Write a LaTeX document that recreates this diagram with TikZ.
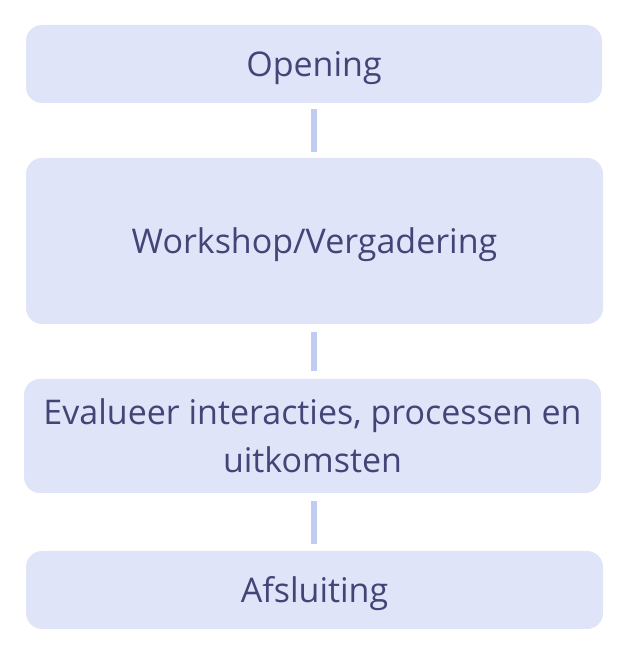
\documentclass[tikz,border=0pt]{standalone}
\usepackage{fontspec}
\setmainfont{Open Sans}
\definecolor{boxfill}{HTML}{DFE4F8}
\definecolor{linec}{HTML}{C0CCF2}
\definecolor{txt}{HTML}{444477}
\begin{document}
\begin{tikzpicture}[x=1pt,y=1pt,
  box/.style={fill=boxfill,rounded corners=16pt,text=txt,font=\fontsize{34}{48}\selectfont,align=center,inner sep=0pt},
  oneline/.style={text height=33pt,text depth=8pt},
  conn/.style={draw=linec,line width=6pt}]
\useasboundingbox (0,0) rectangle (625,655);
\node[box,oneline,minimum width=576pt,minimum height=78pt] (a) at (314,591) {Opening};
\node[box,oneline,minimum width=577pt,minimum height=166pt] (b) at (314.5,414) {Workshop/Vergadering};
\node[box,minimum width=577pt,minimum height=114pt] (c) at (312.5,219) {Evalueer interacties, processen en\\uitkomsten};
\node[box,oneline,minimum width=577pt,minimum height=78pt] (d) at (314.5,65) {Afsluiting};
\draw[conn] ([yshift=-6pt]a.south -| 314,0) -- ([yshift=6pt]b.north -| 314,0);
\draw[conn] ([yshift=-8pt]b.south -| 314,0) -- ([yshift=8pt]c.north -| 314,0);
\draw[conn] ([yshift=-8pt]c.south -| 314,0) -- ([yshift=7pt]d.north -| 314,0);
\end{tikzpicture}
\end{document}
